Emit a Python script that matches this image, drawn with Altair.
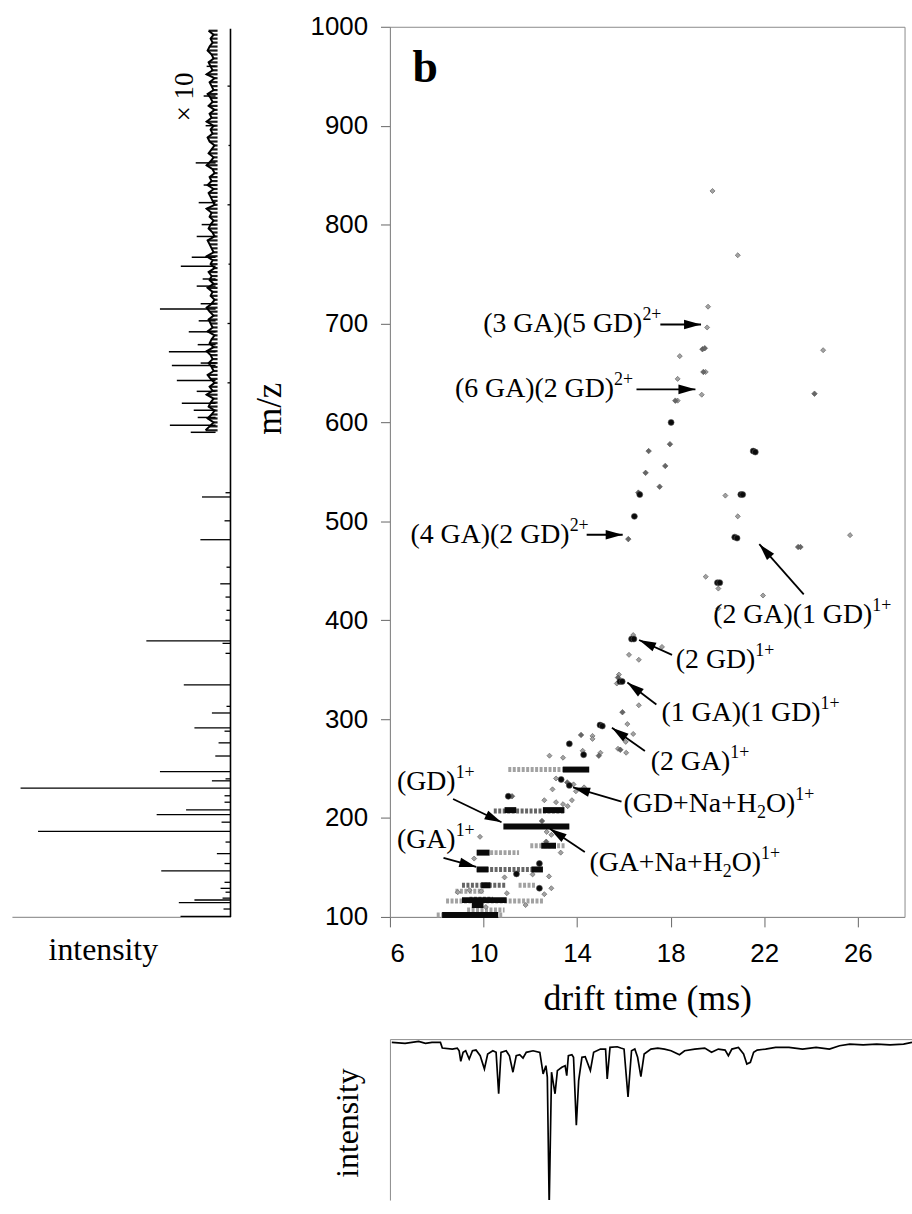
import math
import altair as alt
import pandas as pd

# ---------------- frame of the 2-D drift-time / m/z map ----------------
T_MIN, T_MAX = 6, 28
MZ_MIN, MZ_MAX = 100, 1000
MAIN_W, MAIN_H = 518, 896
PX_T = MAIN_W / (T_MAX - T_MIN)
PX_MZ = MAIN_H / (MZ_MAX - MZ_MIN)

x_ticks = [6, 10, 14, 18, 22, 26]
y_ticks = [100, 200, 300, 400, 500, 600, 700, 800, 900, 1000]

# ---------------- isolated spots: drift time (ms), m/z, level (1 weak, 2 medium, 3 strong) -------
spot_t = [19.79, 20.87, 19.60, 19.56, 19.36, 19.46, 18.39, 19.40, 19.50, 18.30, 19.33, 24.52, 24.15,
          18.20, 18.30, 18.02, 17.97, 17.06, 21.53, 21.62, 17.77, 16.93, 17.53, 16.68, 16.62, 21.00,
          21.08, 20.34, 16.45, 20.87, 16.19, 20.74, 20.84, 23.45, 23.55, 25.67, 19.50, 20.00, 20.10,
          20.04, 20.04, 21.95,
          16.40, 16.33, 16.43, 17.63, 16.22, 16.64, 15.79, 15.75, 15.83, 15.93, 15.70, 16.64, 15.94,
          16.15, 14.98, 15.08, 16.40, 14.17, 14.66, 14.66, 13.67, 16.08, 15.75, 15.85, 16.10, 14.93,
          15.00, 14.28, 14.24, 12.82, 13.40,
          13.32, 13.10, 13.67, 13.58, 13.85, 14.30, 13.95, 12.95, 11.06, 11.22, 12.60, 13.10, 13.40,
          13.60, 13.78, 12.50, 12.70, 12.90, 9.85, 12.68, 13.30, 12.39, 9.60, 11.41, 10.90, 12.10,
          12.80, 12.39, 12.90, 8.90, 9.40, 9.90, 11.00, 12.60, 10.10, 11.80]
spot_mz = [834, 769, 717, 696, 674, 675, 667, 651, 651, 644, 628, 673, 629,
           622, 622, 600, 578, 571, 571, 570, 556, 549, 535, 527, 529, 527,
           527, 526, 505, 505, 482, 484, 483, 474, 474, 486, 444, 438, 438,
           432, 412, 425,
           385, 381, 381, 373, 365, 360, 345, 342, 338, 338, 336, 314, 307,
           295, 294, 293, 285, 284, 283, 280, 275, 277, 270, 269, 266, 263,
           266, 264, 268, 263, 261,
           239, 240, 233, 236, 234, 231, 227, 229, 222, 222, 218, 216, 214,
           212, 218, 197, 186, 183, 181, 176, 165, 154, 159, 143.5, 140, 143,
           141, 129, 129, 125, 127, 126, 124, 123, 110, 112]
spot_lvl = [1, 1, 1, 1, 2, 2, 1, 2, 1, 1, 1, 1, 2,
            2, 1, 3, 2, 2, 3, 3, 2, 2, 2, 3, 2, 3,
            3, 1, 3, 1, 2, 3, 3, 2, 2, 1, 1, 3, 3,
            1, 1, 1,
            1, 3, 3, 1, 1, 1, 1, 2, 3, 3, 1, 1, 2,
            1, 3, 3, 1, 2, 1, 1, 3, 1, 1, 2, 1, 2,
            1, 3, 1, 1, 1,
            3, 1, 3, 2, 1, 1, 1, 1, 3, 2, 1, 1, 1,
            1, 1, 2, 1, 1, 1, 2, 1, 3, 1, 3, 1, 1,
            1, 3, 1, 1, 1, 1, 1, 1, 1, 1]

# ---------------- horizontal streaks of the singly charged ions ----------------
streak_mz = [102, 102, 107, 112, 116, 117, 118, 126, 132, 132, 132, 148, 148, 148,
             165, 165, 172, 172, 191.5, 207, 208, 208, 249, 249]
streak_t0 = [8.00, 8.23, 9.30, 9.50, 8.40, 9.08, 9.40, 8.80, 9.08, 9.90, 11.50, 9.71, 9.71, 12.05,
             9.71, 9.71, 12.00, 12.47, 10.85, 10.44, 10.90, 12.54, 11.06, 13.39]
streak_t1 = [10.80, 10.63, 10.90, 10.00, 12.55, 10.99, 10.40, 10.00, 10.99, 10.30, 12.20, 12.54, 10.21, 12.54,
             11.52, 10.26, 13.50, 13.10, 13.67, 13.50, 11.40, 13.46, 13.39, 14.52]
streak_lvl = [1, 3, 1, 3, 1, 3, 2, 1, 2, 3, 1, 2, 3, 3,
              1, 3, 1, 3, 3, 2, 3, 3, 1, 3]

# ---------------- ion assignments ----------------
label_t = [9.99, 8.78, 6.88, 19.82, 18.22, 17.61, 17.15, 15.99, 14.53, 6.30, 6.30]
label_mz = [691.3, 625.3, 478.0, 397.3, 352.1, 298.6, 248.4, 206.5, 146.2, 228.3, 169.6]
label_parts = [
    [("(3 GA)(5 GD)", "n"), ("2+", "sup")],
    [("(6 GA)(2 GD)", "n"), ("2+", "sup")],
    [("(4 GA)(2 GD)", "n"), ("2+", "sup")],
    [("(2 GA)(1 GD)", "n"), ("1+", "sup")],
    [("(2 GD)", "n"), ("1+", "sup")],
    [("(1 GA)(1 GD)", "n"), ("1+", "sup")],
    [("(2 GA)", "n"), ("1+", "sup")],
    [("(GD+Na+H", "n"), ("2", "sub"), ("O)", "n"), ("1+", "sup")],
    [("(GA+Na+H", "n"), ("2", "sub"), ("O)", "n"), ("1+", "sup")],
    [("(GD)", "n"), ("1+", "sup")],
    [("(GA)", "n"), ("1+", "sup")],
]
arrow_t0 = [17.56, 16.54, 14.41, 23.69, 18.06, 17.39, 16.90, 15.90, 14.33, 8.70, 8.29]
arrow_mz0 = [699.0, 633.4, 486.4, 426.2, 364.9, 314.7, 267.8, 216.5, 165.6, 219.2, 159.6]
arrow_t1 = [19.30, 19.06, 15.95, 21.79, 16.65, 16.15, 15.49, 13.83, 12.84, 10.77, 9.69]
arrow_mz1 = [699.0, 633.4, 486.4, 476.9, 380.0, 337.1, 291.2, 230.9, 189.2, 195.7, 150.6]

# ---------------- mass spectrum (left) ----------------
peak_mz = [524.6, 481.4, 436.8, 379.2, 334.7, 306.2, 291.1, 262.7, 246.9, 237.6, 230.3, 208.2,
           203.5, 186.4, 164.0, 146.5, 128.9, 117.1, 114.4, 100.5,
           276, 216, 222.5, 239.6, 195.8, 175.7, 154, 119, 287.8, 312.9, 366.5, 376.6, 400,
           410, 423.4, 453.6, 500.5, 528.9, 135, 108, 125,
           640, 700, 760, 820, 880, 940]
peak_int = [28.7, 30.3, 10.3, 84.7, 47.0, 18.7, 36.3, 15.3, 71.0, 18.7, 211.3, 44.7,
            74.3, 193.7, 13.7, 69.7, 10.0, 36.3, 52.0, 50.3,
            12, 6, 6, 5, 9, 5, 6, 8, 6, 4, 5, 8, 5,
            4, 5, 4, 6, 5, 6, 7, 5,
            3, 3, 2, 3, 2, 3]
# broadened peak bodies: low edge, apex, high edge (m/z) and apex height
body_lo = [185.3, 229.5, 243.5, 200.0]
body_top = [186.4, 230.3, 247.0, 206.0]
body_hi = [192.0, 232.5, 251.0, 213.0]
body_int = [193.7, 211.3, 20.0, 16.0]

# x10 expanded trace above m/z 590: baseline ripple every 4 m/z from 592, plus spikes
X10_BASE = 15
x10_ripple = [10, 6, 2, 8, 4, 1, 7, 5, 2, 9, 3, 6, 1, 5, 8, 2, 4, 7, 3, 5, 9, 2, 6, 4, 1, 8,
              3, 5, 7, 2, 6, 9, 4, 1, 5, 3, 8, 2, 6, 4, 7, 1, 5, 3, 9, 2, 4, 6, 8, 1, 3, 7,
              5, 2, 6, 4, 9, 1, 3, 5, 7, 2, 8, 4, 6, 1, 3, 9, 5, 2, 7, 4, 1, 6, 8, 3, 5, 2,
              9, 4, 6, 1, 7, 3, 5, 8, 2, 4, 6, 1, 9, 3, 5, 7, 2, 4, 8, 6, 3, 5, 2, 7]
x10_spike_mz = [714.7, 691.6, 671.5, 657.5, 642.4, 619.3, 597.2, 757.9, 788.0, 767.0, 862.4,
                822.2, 702.7, 678.6, 631.4, 612.3, 737.8, 840, 900, 930, 960, 800, 720, 745,
                660, 605, 590]
x10_spike_h = [56, 27, 47, 44, 39, 34, 46, 35, 19, 24, 20,
               17, 17, 18, 19, 22, 19, 12, 10, 12, 9, 14, 15, 13,
               15, 18, 25]

# ---------------- drift-time profile (bottom), drawn downward ----------------
prof_t = [5.76, 6.33, 6.62, 6.91, 7.20, 7.48, 7.84, 7.92, 8.35, 8.56, 8.64, 8.71, 8.81, 8.92, 9.07,
          9.21, 9.36, 9.54, 9.72, 9.86, 10.08, 10.22, 10.33, 10.43, 10.65, 10.79, 10.94, 11.08,
          11.23, 11.37, 11.51, 11.80, 12.09, 12.23, 12.35, 12.41, 12.49, 12.59, 12.74, 12.84,
          13.03, 13.17, 13.24, 13.31, 13.46, 13.53, 13.65, 13.75, 13.89, 14.03, 14.25, 14.39,
          14.68, 14.90, 14.97, 15.09, 15.40, 15.55, 15.69, 15.86, 16.01, 16.15, 16.27, 16.41,
          16.55, 16.84, 17.13, 17.42, 17.70, 18.06, 18.28, 18.71, 19.14, 19.43, 19.72, 20.01,
          20.15, 20.30, 20.58, 20.80, 20.94, 21.09, 21.23, 21.38, 21.74, 22.17, 22.74, 23.32,
          23.90, 24.47, 24.90, 25.34, 25.91, 26.49, 27.06, 27.64, 28.00]
prof_d = [3.3, 4.3, 3.3, 2.3, 4.3, 3.3, 3.3, 9.0, 10.0, 9.0, 11.7, 22.3, 13.3, 11.7, 20.0,
          11.7, 11.0, 16.7, 30.0, 15.0, 11.7, 13.3, 55.0, 13.3, 11.7, 16.7, 33.3, 16.7,
          15.7, 19.0, 13.3, 11.7, 13.3, 35.0, 26.7, 38.3, 168.0, 33.3, 55.0, 31.7,
          28.3, 26.7, 36.7, 16.7, 15.7, 18.3, 86.7, 41.7, 18.3, 17.7, 31.7, 13.3,
          10.0, 10.0, 40.0, 8.3, 7.7, 9.0, 10.0, 58.3, 11.7, 10.0, 18.3, 37.7,
          15.0, 10.0, 9.0, 10.0, 11.7, 15.7, 11.7, 10.0, 9.0, 13.3, 10.0, 11.0,
          16.7, 10.0, 8.3, 15.0, 25.0, 23.3, 13.3, 11.0, 10.0, 8.3, 8.3, 10.0,
          8.3, 10.0, 6.7, 5.0, 5.7, 5.0, 5.7, 5.0, 3.3]

SERIF = "Liberation Serif"
SANS = "Liberation Sans"
GREY = "#8a8a8a"

# ======================= main 2-D map =======================
AX_X = alt.Axis(values=x_ticks, grid=False, tickSize=10, tickColor="#666", domainColor=GREY,
                labelFont=SANS, labelFontSize=26, labelColor="black", labelPadding=14,
                format="d",
                title="drift time (ms)", titleFont=SERIF, titleFontSize=36,
                titleFontWeight="normal", titleColor="black", titleBaseline="alphabetic",
                titleY=93)
AX_Y = alt.Axis(values=y_ticks, grid=False, tickSize=9.5, tickColor="#666", domainColor=GREY,
                labelFont=SANS, labelFontSize=26, labelColor="black", labelPadding=13,
                format="d",
                title="m/z", titleFont=SERIF, titleFontSize=35, titleFontWeight="normal",
                titleColor="black", titleAngle=270, titleBaseline="alphabetic",
                titleAlign="center", titleX=-110, titleY=384)
SC_X = alt.Scale(domain=[T_MIN, T_MAX], nice=False, zero=False)
SC_Y = alt.Scale(domain=[MZ_MIN, MZ_MAX], nice=False, zero=False)


def X(f):
    return alt.X(f, type="quantitative", scale=SC_X, axis=AX_X)


def Y(f):
    return alt.Y(f, type="quantitative", scale=SC_Y, axis=AX_Y)


spots = pd.DataFrame({"t": spot_t, "mz": spot_mz, "lvl": [str(v) for v in spot_lvl]})
streaks = pd.DataFrame({"t": streak_t0, "t1": streak_t1, "mz": streak_mz,
                        "lvl": [str(v) for v in streak_lvl]})

LVL = ["1", "2", "3"]
FILL = alt.Scale(domain=LVL, range=["#a2a2a2", "#666666", "#0a0a0a"])

streak_soft = alt.Chart(streaks).transform_filter("datum.lvl != '3'").mark_rule(
    strokeWidth=5, strokeDash=[3, 1.5]).encode(
    x=X("t"), x2=alt.X2("t1"), y=Y("mz"), color=alt.Color("lvl:N", scale=FILL, legend=None))
streak_dark = alt.Chart(streaks).transform_filter("datum.lvl == '3'").mark_rule(
    strokeWidth=6, color="#0a0a0a").encode(x=X("t"), x2=alt.X2("t1"), y=Y("mz"))

spot_layer = alt.Chart(spots).mark_point(filled=True, opacity=1, stroke="#555",
                                         strokeWidth=0.6).encode(
    x=X("t"), y=Y("mz"),
    color=alt.Color("lvl:N", scale=FILL, legend=None),
    shape=alt.Shape("lvl:N", scale=alt.Scale(domain=LVL, range=["diamond", "diamond", "circle"]),
                    legend=None),
    size=alt.Size("lvl:N", scale=alt.Scale(domain=LVL, range=[26, 36, 78]), legend=None),
    order=alt.Order("lvl:N"))

# label text, split into normal / superscript / subscript runs
W_EM = {"(": 0.333, ")": 0.333, " ": 0.25, "+": 0.564, "a": 0.444}
LABEL_FS, SCRIPT_FS = 28, 18
SUP_RAISE, SUB_DROP = 12, 6


def run_width(s, fs):
    return sum(W_EM.get(c, 0.5 if c.isdigit() else 0.722) for c in s) * fs


seg_rows = []
for t0, m0, parts in zip(label_t, label_mz, label_parts):
    off = 0.0
    for txt, kind in parts:
        fs = LABEL_FS if kind == "n" else SCRIPT_FS
        lift = 0 if kind == "n" else (SUP_RAISE if kind == "sup" else -SUB_DROP)
        seg_rows.append({"t": t0 + off / PX_T, "mz": m0 + lift / PX_MZ, "txt": txt, "fs": fs})
        off += run_width(txt, fs)
segs = pd.DataFrame(seg_rows)

label_layer = alt.Chart(segs).mark_text(align="left", baseline="alphabetic", font=SERIF,
                                        color="black").encode(
    x=X("t"), y=Y("mz"), text="txt:N", size=alt.Size("fs:Q", scale=None))

arrows = pd.DataFrame({"t": arrow_t0, "mz": arrow_mz0, "t1": arrow_t1, "mz1": arrow_mz1})
arrows["ang"] = [
    math.degrees(math.atan2((b - a) * PX_T, (d - c) * PX_MZ)) % 360
    for a, b, c, d in zip(arrow_t0, arrow_t1, arrow_mz0, arrow_mz1)
]
shaft = alt.Chart(arrows).mark_rule(strokeWidth=1.8, color="black").encode(
    x=X("t"), x2=alt.X2("t1"), y=Y("mz"), y2=alt.Y2("mz1"))
heads = alt.Chart(arrows).mark_point(shape="M0,0L0.42,1.5L-0.42,1.5Z", filled=True, opacity=1,
                                     size=520, color="black", strokeWidth=0).encode(
    x=X("t1"), y=Y("mz1"), angle=alt.Angle("ang:Q", scale=None))

panel_tag = alt.Chart(pd.DataFrame({"t": [6.96], "mz": [943.7], "txt": ["b"]})).mark_text(
    align="left", baseline="alphabetic", font=SERIF, fontWeight="bold", fontSize=46,
    color="black").encode(x=X("t"), y=Y("mz"), text="txt:N")

main = alt.layer(streak_soft, spot_layer, streak_dark, shaft, heads, label_layer,
                 panel_tag).properties(
    width=MAIN_W, height=MAIN_H, view=alt.ViewBackground(stroke=GREY, strokeWidth=1))

# ======================= mass spectrum (left) =======================
SPEC_W = 220
SC_I = alt.Scale(domain=[0, SPEC_W], reverse=True, nice=False, zero=False)
AX_I = alt.Axis(ticks=False, labels=False, title=None, grid=False, domainColor="#999",
                domainWidth=1.2)


def XI(f):
    return alt.X(f, type="quantitative", scale=SC_I, axis=AX_I)


def YS(f):
    return alt.Y(f, type="quantitative", scale=SC_Y, axis=None)


base_line = alt.Chart(pd.DataFrame({"I": [0], "mz": [MZ_MIN], "mz1": [998]})).mark_rule(
    strokeWidth=1.6, color="black").encode(x=XI("I"), y=YS("mz"), y2=alt.Y2("mz1"))

peaks = pd.DataFrame({"mz": peak_mz, "I": peak_int, "b": [0] * len(peak_mz)})
peak_rules = alt.Chart(peaks).mark_rule(strokeWidth=1.3, color="black").encode(
    x=XI("b"), x2=alt.X2("I"), y=YS("mz"))

body_rows = []
for k, (lo, top, hi, h) in enumerate(zip(body_lo, body_top, body_hi, body_int)):
    body_rows += [{"pk": k, "mz": lo, "I": 0}, {"pk": k, "mz": top, "I": h},
                  {"pk": k, "mz": hi, "I": 0}]
bodies = alt.Chart(pd.DataFrame(body_rows)).mark_area(orient="horizontal", color="#111",
                                                      opacity=0.9).encode(
    x=XI("I"), y=YS("mz"), detail="pk:N", order="mz:Q")

ripple = pd.DataFrame({"mz": [592 + 4 * i for i in range(len(x10_ripple))],
                       "I": [X10_BASE + v for v in x10_ripple],
                       "b": [X10_BASE - 2] * len(x10_ripple)})
ripple_line = alt.Chart(ripple).mark_line(strokeWidth=2.0, color="black").encode(
    x=XI("I"), y=YS("mz"), order="mz:Q")
ripple_fill = alt.Chart(ripple).mark_rule(strokeWidth=2.2, color="#1a1a1a").encode(
    x=XI("b"), x2=alt.X2("I"), y=YS("mz"))
spikes = pd.DataFrame({"mz": x10_spike_mz, "b": [X10_BASE] * len(x10_spike_mz),
                       "I": [X10_BASE + h for h in x10_spike_h]})
spike_rules = alt.Chart(spikes).mark_rule(strokeWidth=1.5, color="black").encode(
    x=XI("b"), x2=alt.X2("I"), y=YS("mz"))

x10_tag = alt.Chart(pd.DataFrame({"I": [46], "mz": [929], "txt": ["× 10"]})).mark_text(
    angle=270, font=SERIF, fontSize=27, align="center", baseline="middle",
    color="black").encode(x=XI("I"), y=YS("mz"), text="txt:N")
int_tag = alt.Chart(pd.DataFrame({"I": [128], "mz": [56], "txt": ["intensity"]})).mark_text(
    font=SERIF, fontSize=32, align="center", baseline="alphabetic", color="black").encode(
    x=XI("I"), y=YS("mz"), text="txt:N")

spectrum = alt.layer(base_line, bodies, peak_rules, ripple_fill, ripple_line, spike_rules,
                     x10_tag, int_tag).properties(width=SPEC_W, height=MAIN_H)

# ======================= drift-time profile (bottom) =======================
PROF_W, PROF_H = 525.5, 162
prof = pd.DataFrame({"t": prof_t, "d": prof_d})
profile = alt.Chart(prof).mark_line(strokeWidth=1.7, color="black", clip=True).encode(
    x=alt.X("t:Q", scale=alt.Scale(domain=[T_MAX - PROF_W / PX_T, T_MAX], nice=False, zero=False),
            axis=alt.Axis(orient="top", ticks=False, labels=False, title=None, grid=False,
                          domainColor=GREY)),
    y=alt.Y("d:Q", scale=alt.Scale(domain=[0, PROF_H], reverse=True, nice=False),
            axis=alt.Axis(ticks=False, labels=False, grid=False, domainColor=GREY,
                          title="intensity", titleFont=SERIF, titleFontSize=32,
                          titleFontWeight="normal", titleColor="black", titleAngle=270,
                          titleBaseline="alphabetic", titleAlign="center",
                          titleX=-33, titleY=84)),
    order="t:Q").properties(width=PROF_W, height=PROF_H)

# empty cell under the spectrum, slightly narrower so the profile sits a little left
gap = alt.Chart(pd.DataFrame({"a": [0]})).mark_point(opacity=0).encode(
    x=alt.X("a:Q", axis=None), y=alt.Y("a:Q", axis=None)).properties(width=SPEC_W - 7.5,
                                                                      height=PROF_H)

chart = alt.concat(spectrum, main, gap, profile, columns=2,
                   spacing=alt.RowColnumber(row=123, column=160.5),
                   bounds="flush", align="none").properties(
    padding={"left": 12, "top": 9, "right": 0, "bottom": 0},
    background="white",
).configure_view(stroke=None)

chart.save("out.html", embed_options={"renderer": "svg", "actions": False})
